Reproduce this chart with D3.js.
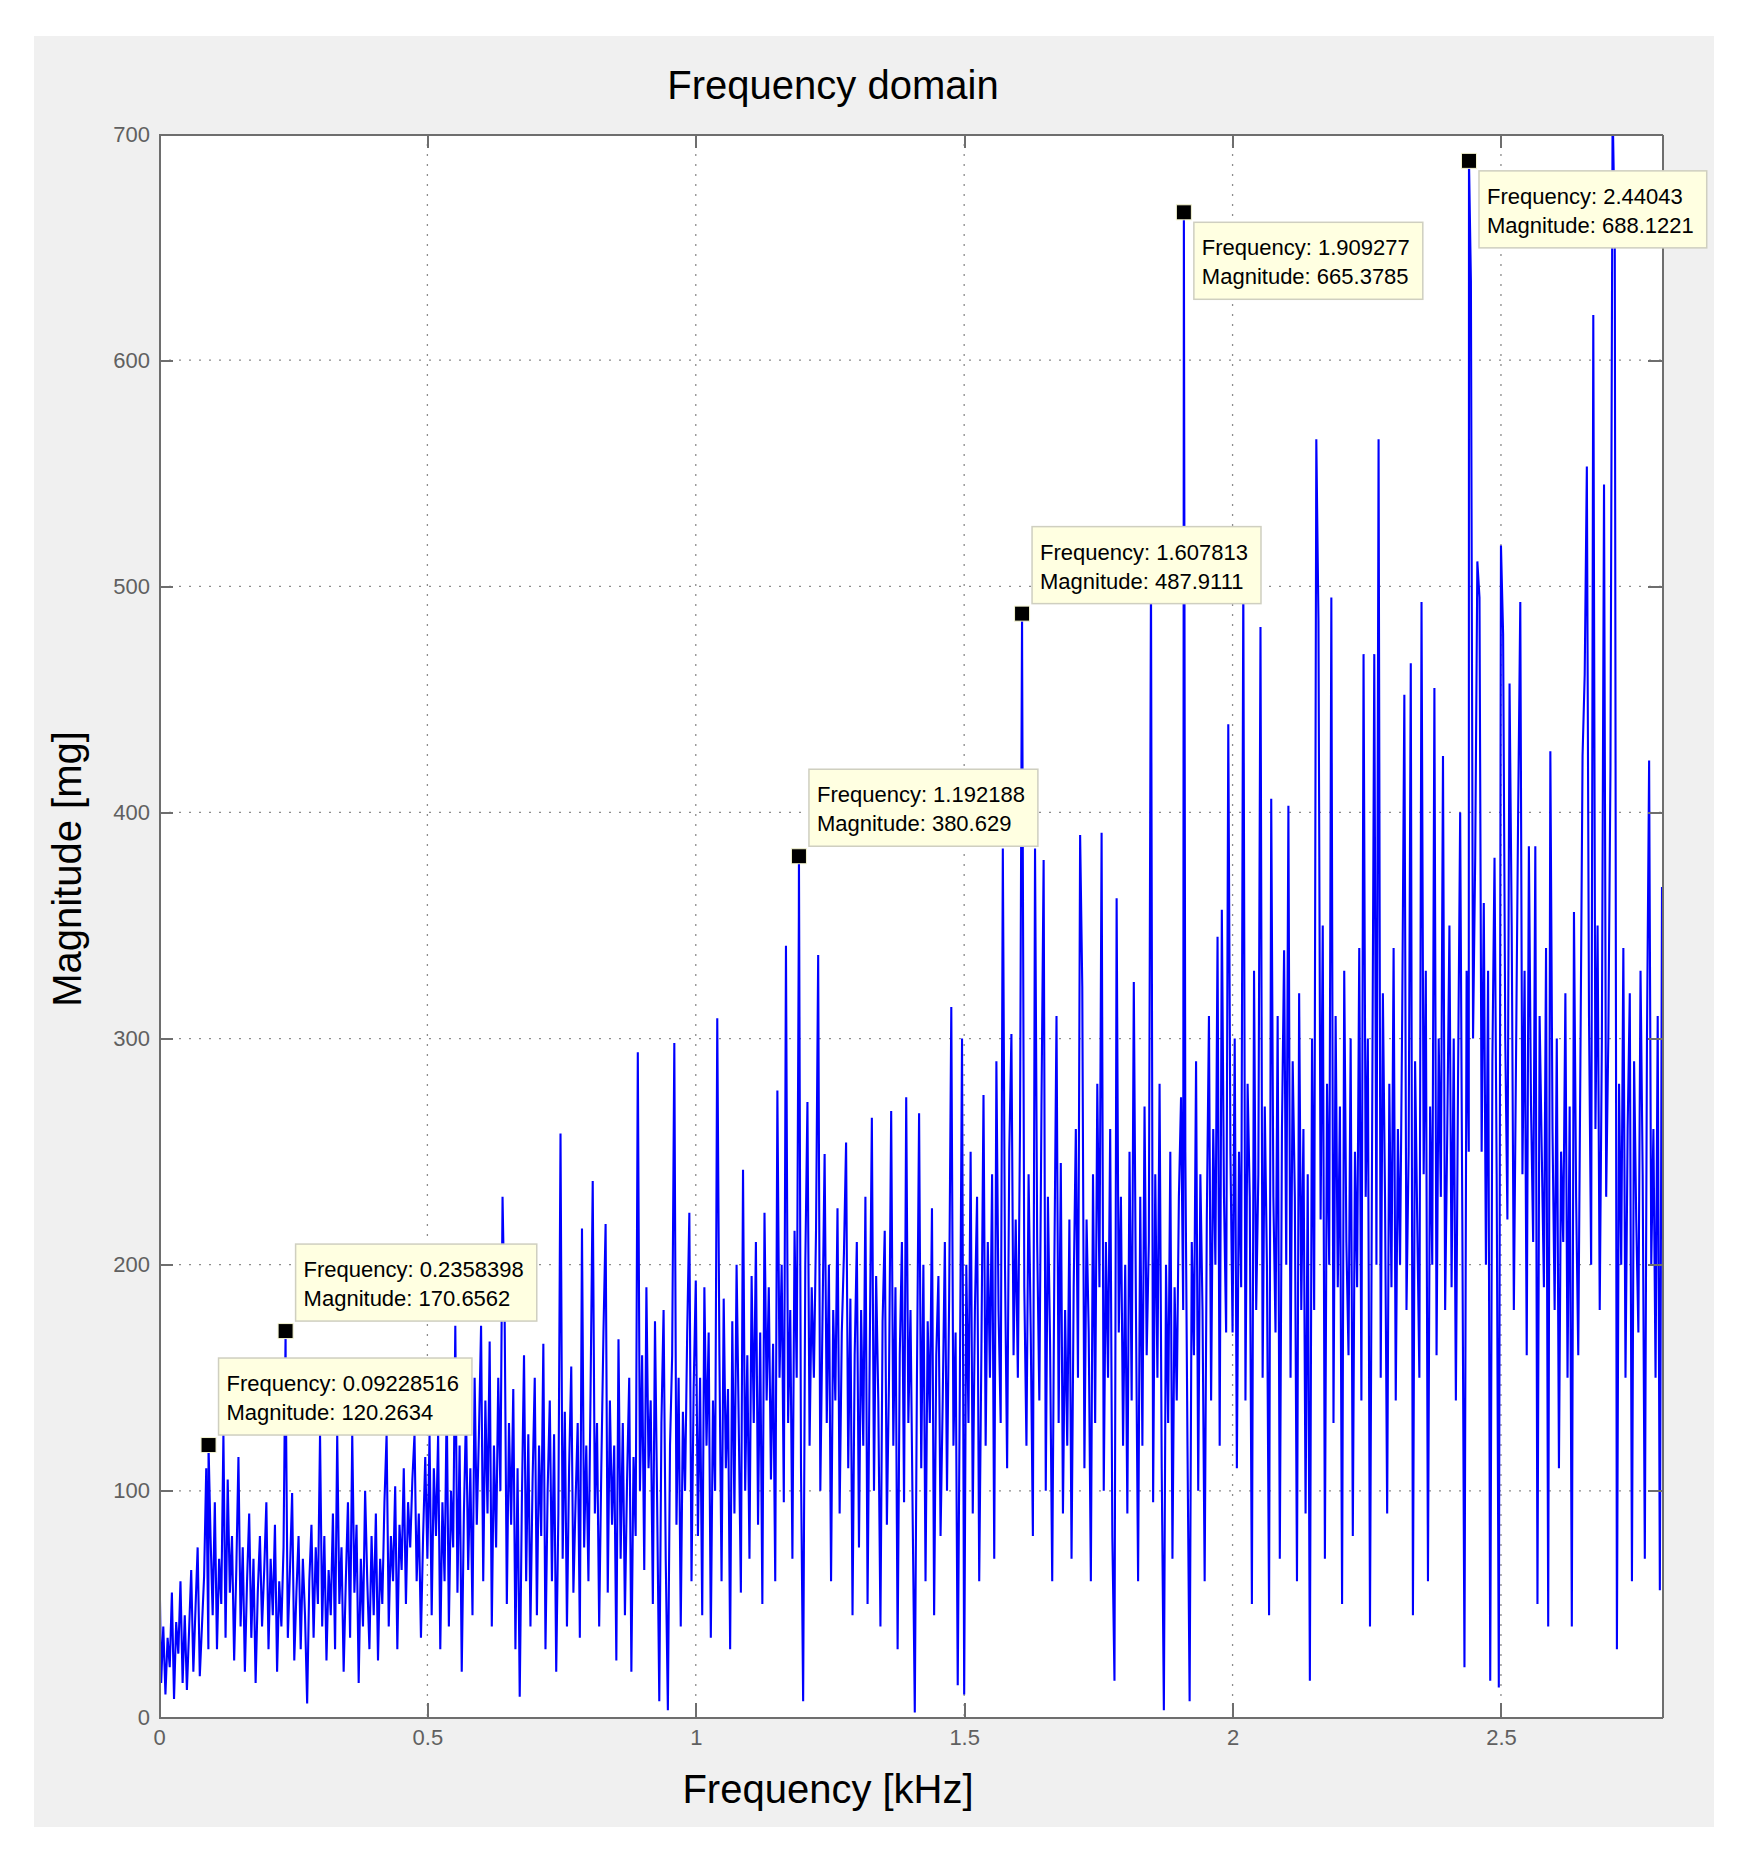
<!DOCTYPE html>
<html lang="en">
<head>
<meta charset="UTF-8">
<title>Frequency domain</title>
<style>
    body { margin: 0; background: #ffffff; }
    svg { display: block; font-family: 'Liberation Sans', Arial, sans-serif; }

    .axis path,
    .axis line {
        stroke: #6e6e6e;
        stroke-width: 2;
        shape-rendering: crispEdges;
    }

    .tick text {
        font-family: 'Liberation Sans', Arial, sans-serif;
        font-size: 22px;
        fill: #606060;
    }

    .grid line {
        stroke: #8c8c8c;
        stroke-width: 1.3;
        stroke-dasharray: 2, 8;
    }

    .label {
        font-size: 40px;
        fill: #000000;
    }

    .tip .box {
        fill: #ffffe1;
        stroke: #cfcfc0;
        stroke-width: 1.5;
    }

    .tip text {
        font-size: 22px;
        fill: #000000;
    }
</style>
</head>
<body>
<svg id="chart" width="1741" height="1866"></svg>

<script src="https://d3js.org/d3.v7.min.js"></script>
<script>
    // Axis ticks
    const xTicks = [0, 0.5, 1, 1.5, 2, 2.5];
    const yTicks = [0, 100, 200, 300, 400, 500, 600, 700];

    // Magnitude samples [mg], one every 0.004 kHz
    const freqStep = 0.004;
    // 0.0 - 0.4 kHz
    const magA = [
        82, 15, 40, 10, 35, 22, 55, 8, 42, 28, 60, 15, 45, 12, 38, 65, 20, 48, 75, 18, 40, 62, 110, 30, 80,
        45, 95, 30, 70, 50, 125, 35, 105, 55, 80, 25, 65, 115, 40, 75, 20, 60, 90, 35, 70, 15, 55, 80, 40, 65,
        95, 30, 70, 45, 85, 20, 60, 40, 75, 150, 35, 65, 99, 25, 55, 80, 30, 70, 45, 6, 60, 85, 35, 75, 50,
        125, 40, 80, 25, 65, 45, 90, 30, 125, 50, 75, 20, 60, 95, 35, 125, 55, 85, 15, 70, 40, 100, 60, 30, 80
    ];
    // 0.4 - 0.8 kHz
    const magB = [
        45, 90, 25, 70, 50, 95, 125, 40, 80, 60, 102, 30, 85, 65, 110, 50, 95, 75, 105, 125, 60, 90, 35, 80, 115,
        70, 125, 45, 110, 80, 125, 30, 95, 60, 140, 40, 100, 75, 173, 55, 120, 20, 90, 135, 65, 110, 45, 150, 85, 125,
        173, 60, 140, 90, 166, 40, 120, 75, 150, 100, 230, 175, 50, 130, 85, 145, 30, 110, 9, 95, 160, 60, 125, 40, 105,
        150, 45, 120, 80, 165, 30, 100, 140, 60, 125, 20, 90, 258, 70, 135, 40, 110, 155, 55, 95, 130, 35, 216, 75, 120
    ];
    // 0.8 - 1.2 kHz
    const magC = [
        60, 145, 237, 90, 130, 40, 110, 170, 218, 55, 140, 85, 120, 25, 167, 70, 130, 45, 105, 150, 20, 115, 80, 294, 100,
        160, 65, 190, 110, 140, 50, 175, 95, 7, 130, 180, 70, 3, 120, 160, 298, 85, 150, 40, 135, 100, 170, 223, 60, 145,
        193, 80, 150, 45, 190, 120, 170, 35, 140, 100, 309, 160, 60, 185, 110, 145, 30, 175, 90, 200, 130, 55, 242, 100, 160,
        70, 195, 130, 210, 85, 170, 50, 223, 140, 190, 105, 165, 60, 277, 150, 200, 95, 341, 130, 180, 70, 215, 150, 355, 110
    ];
    // 1.2 - 1.6 kHz
    const magD = [
        7, 200, 272, 120, 190, 150, 215, 337, 100, 175, 249, 130, 200, 60, 180, 140, 225, 90, 170, 205, 254, 110, 185, 45, 160,
        210, 75, 180, 120, 230, 50, 160, 265, 100, 195, 140, 40, 175, 215, 85, 150, 268, 120, 190, 30, 160, 210, 95, 274, 130,
        180, 90, 2, 150, 267, 110, 200, 60, 175, 130, 225, 45, 160, 195, 80, 140, 210, 100, 185, 314, 120, 170, 14, 150, 300,
        10, 200, 130, 250, 90, 180, 230, 60, 160, 275, 120, 210, 150, 240, 70, 290, 180, 130, 384, 200, 110, 250, 302, 160, 220
    ];
    // 1.6 - 2.0 kHz
    const magE = [
        150, 260, 468, 190, 120, 240, 170, 80, 384, 210, 140, 270, 379, 100, 230, 165, 60, 200, 310, 130, 245, 90, 180, 120, 220,
        70, 190, 260, 150, 390, 323, 110, 220, 170, 60, 240, 130, 280, 190, 391, 100, 210, 150, 260, 80, 16, 362, 170, 230, 120,
        200, 90, 250, 140, 325, 180, 60, 230, 120, 270, 160, 210, 504, 95, 240, 150, 280, 110, 3, 200, 130, 250, 70, 190, 140,
        230, 274, 180, 250, 120, 7, 210, 160, 290, 100, 240, 180, 60, 220, 310, 140, 260, 200, 345, 120, 357, 230, 170, 439, 250
    ];
    // 2.0 - 2.4 kHz
    const magF = [
        170, 300, 110, 250, 190, 503, 140, 280, 230, 50, 330, 180, 240, 482, 150, 270, 200, 45, 406, 230, 170, 310, 70, 260, 339,
        200, 403, 150, 290, 230, 60, 320, 180, 260, 90, 240, 16, 300, 180, 565, 485, 220, 350, 70, 280, 200, 495, 130, 310, 190,
        270, 50, 330, 210, 160, 300, 80, 250, 190, 340, 140, 470, 230, 300, 40, 260, 470, 200, 565, 150, 320, 230, 90, 280, 190,
        340, 140, 260, 200, 310, 452, 180, 250, 466, 45, 290, 220, 150, 493, 240, 330, 60, 270, 200, 455, 160, 300, 230, 425, 180
    ];
    // 2.4 - 2.8 kHz
    const magG = [
        260, 350, 190, 300, 140, 280, 400, 220, 22, 330, 250, 635, 300, 380, 511, 495, 250, 360, 200, 330, 16, 290, 380, 240, 13,
        518, 479, 300, 220, 457, 350, 180, 290, 400, 493, 240, 330, 160, 385, 270, 210, 385, 50, 310, 250, 190, 340, 40, 427, 260,
        180, 300, 110, 250, 210, 320, 150, 270, 40, 356, 230, 160, 290, 425, 461, 553, 310, 200, 620, 260, 350, 180, 300, 545, 230,
        300, 420, 712, 655, 30, 280, 200, 340, 150, 260, 320, 60, 290, 220, 170, 330, 240, 70, 300, 423, 200, 260, 150, 310, 56, 367
    ];

    // Data tips shown on the plot
    const tipFreq = [0.09228516, 0.2358398, 1.192188, 1.607813, 1.909277, 2.44043];
    const tipMag = [120.2634, 170.6562, 380.629, 487.9111, 665.3785, 688.1221];

    // Layout
    const plot = { left: 159, right: 1662, top: 134, bottom: 1717 };

    const svg = d3.select("#chart");

    const x = d3.scaleLinear().domain([0, 2.8]).range([plot.left, plot.right]);
    const y = d3.scaleLinear().domain([0, 700]).range([plot.bottom, plot.top]);

    // Figure background and axes background
    svg.append("rect")
        .attr("x", 34).attr("y", 36)
        .attr("width", 1680).attr("height", 1791)
        .attr("fill", "#f0f0f0");

    svg.append("rect")
        .attr("x", plot.left).attr("y", plot.top)
        .attr("width", plot.right - plot.left).attr("height", plot.bottom - plot.top)
        .attr("fill", "#ffffff");

    // Dotted grid
    const grid = svg.append("g").attr("class", "grid");
    grid.selectAll(".gx")
        .data(xTicks.filter(d => d > 0))
        .enter().append("line")
        .attr("x1", d => x(d)).attr("x2", d => x(d))
        .attr("y1", plot.top).attr("y2", plot.bottom);
    grid.selectAll(".gy")
        .data(yTicks.filter(d => d > 0 && d < 700))
        .enter().append("line")
        .attr("x1", plot.left).attr("x2", plot.right)
        .attr("y1", d => y(d)).attr("y2", d => y(d));

    // Spectrum line (grid samples plus the data-tip samples)
    const mags = magA.concat(magB, magC, magD, magE, magF, magG);
    const series = mags.map((m, i) => ({ f: i * freqStep, m: m }));
    tipFreq.forEach((f, i) => series.push({ f: f, m: tipMag[i] }));
    series.sort((a, b) => a.f - b.f);

    svg.append("clipPath").attr("id", "plotClip")
        .append("rect")
        .attr("x", plot.left).attr("y", plot.top)
        .attr("width", plot.right - plot.left).attr("height", plot.bottom - plot.top);

    const line = d3.line()
        .x(d => x(d.f))
        .y(d => y(d.m));

    svg.append("path")
        .datum(series)
        .attr("clip-path", "url(#plotClip)")
        .attr("fill", "none")
        .attr("stroke", "#0000ff")
        .attr("stroke-width", 2.1)
        .attr("stroke-linejoin", "miter")
        .attr("d", line);

    // Axes box with inward ticks on all four sides
    svg.append("g")
        .attr("class", "axis")
        .attr("transform", "translate(0," + plot.bottom + ")")
        .call(d3.axisBottom(x).tickValues(xTicks).tickSize(-14).tickSizeOuter(0).tickPadding(12).tickFormat(d => d));

    svg.append("g")
        .attr("class", "axis")
        .attr("transform", "translate(" + plot.left + ",0)")
        .call(d3.axisLeft(y).tickValues(yTicks).tickSize(-14).tickSizeOuter(0).tickPadding(9).tickFormat(d => d));

    svg.append("g")
        .attr("class", "axis")
        .attr("transform", "translate(0," + plot.top + ")")
        .call(d3.axisTop(x).tickValues(xTicks).tickSize(-14).tickSizeOuter(0).tickFormat(""));

    svg.append("g")
        .attr("class", "axis")
        .attr("transform", "translate(" + plot.right + ",0)")
        .call(d3.axisRight(y).tickValues(yTicks).tickSize(-14).tickSizeOuter(0).tickFormat(""));

    // Data tips
    const boxH = 77;
    tipFreq.forEach((f, i) => {
        const mx = x(f), my = y(tipMag[i]);
        const g = svg.append("g").attr("class", "tip");

        const box = g.append("rect").attr("class", "box");
        const t1 = g.append("text").text("Frequency: " + String(f));
        const t2 = g.append("text").text("Magnitude: " + String(tipMag[i]));
        const w = Math.max(t1.node().getComputedTextLength(), t2.node().getComputedTextLength()) + 21;

        // above-right of the marker, unless it would leave the axes at the top
        let top = my - 10 - boxH;
        if (top < plot.top) top = my + 10;
        const left = mx + 10;

        box.attr("x", left).attr("y", top).attr("width", w).attr("height", boxH);
        t1.attr("x", left + 8).attr("y", top + 33);
        t2.attr("x", left + 8).attr("y", top + 62);

        g.append("rect")
            .attr("x", mx - 7.5).attr("y", my - 7.5)
            .attr("width", 15).attr("height", 15)
            .attr("fill", "#000000")
            .attr("stroke", "#f4f4d0")
            .attr("stroke-width", 1);
    });

    // Title and axis labels
    svg.append("text")
        .attr("class", "label")
        .attr("text-anchor", "middle")
        .attr("x", 833).attr("y", 99)
        .text("Frequency domain");

    svg.append("text")
        .attr("class", "label")
        .attr("text-anchor", "middle")
        .attr("x", 828).attr("y", 1803)
        .text("Frequency [kHz]");

    svg.append("text")
        .attr("class", "label")
        .attr("text-anchor", "middle")
        .attr("transform", "translate(81,869) rotate(-90)")
        .text("Magnitude [mg]");
</script>
</body>
</html>
